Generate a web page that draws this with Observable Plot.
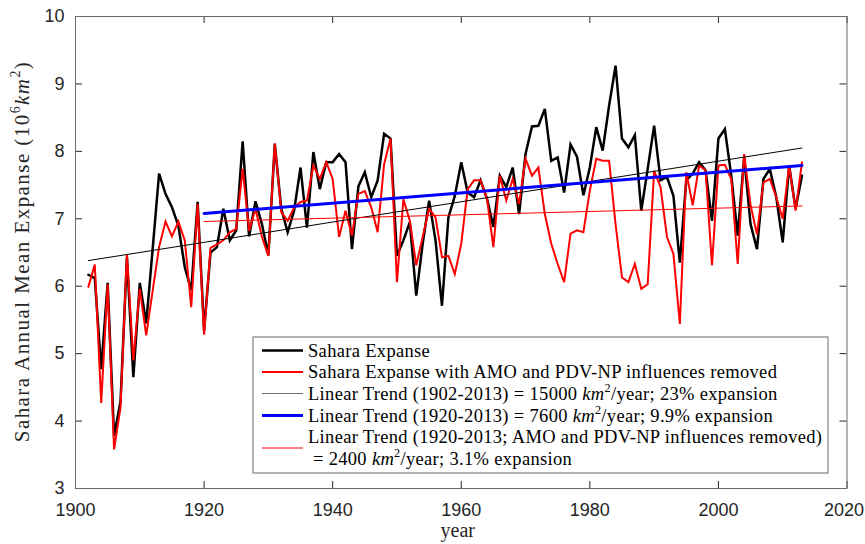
<!DOCTYPE html>
<html><head><meta charset="utf-8">
<script src="https://cdn.jsdelivr.net/npm/d3@7"></script>
<script src="https://cdn.jsdelivr.net/npm/@observablehq/plot@0.6"></script>
<style>
body{margin:0;background:#fff}
#chart{position:relative;width:865px;height:544px}
</style>
</head><body><div id="chart"></div>
<script>
// ---------- data ----------
const years = d3.range(1902, 2014);
const sahara = [
  6.17,6.12,4.77,6.05,3.78,4.29,6.43,4.65,
  6.05,5.45,6.55,7.67,7.37,7.17,6.90,6.28,5.94,7.25,
  5.34,6.50,6.58,7.15,6.68,6.83,8.15,6.74,7.26,6.92,
  6.46,8.11,7.15,6.80,7.12,7.76,6.87,7.99,7.44,7.84,
  7.84,7.96,7.84,6.55,7.48,7.69,7.32,7.57,8.26,8.19,
  6.45,6.68,6.95,5.86,6.63,7.27,6.68,5.71,7.02,7.34,
  7.84,7.39,7.32,7.57,7.30,6.88,7.64,7.47,7.76,7.07,
  7.96,8.37,8.38,8.63,7.86,7.91,7.39,8.10,7.92,7.35,
  7.76,8.36,8.01,8.68,9.27,8.19,8.06,8.24,7.12,7.74,
  8.38,7.57,7.62,7.34,6.35,7.57,7.67,7.84,7.72,6.97,
  8.19,8.33,7.64,6.75,7.91,6.92,6.55,7.59,7.74,7.32,
  6.65,7.79,7.15,7.64
];
const saharaAdjusted = [
  5.99,6.32,4.27,6.03,3.58,4.20,6.47,4.90,
  5.96,5.27,5.93,6.58,6.96,6.74,6.96,6.68,5.69,7.22,
  5.28,6.57,6.62,6.68,6.80,6.85,7.74,6.82,7.15,6.73,
  6.45,8.12,7.10,6.97,7.17,7.25,7.27,7.79,7.59,7.84,
  7.59,6.73,7.12,6.75,7.37,7.41,7.17,6.80,7.81,8.19,
  6.06,7.29,6.97,6.31,6.73,7.15,7.02,6.43,6.45,6.18,
  6.63,7.44,7.57,7.57,7.30,6.58,7.64,7.27,7.59,7.22,
  7.89,7.64,7.76,7.07,6.63,6.33,6.06,6.78,6.83,6.80,
  7.42,7.89,7.86,7.86,6.92,6.13,6.06,6.33,5.96,6.03,
  7.71,7.47,6.73,6.48,5.44,7.69,7.20,7.79,7.72,6.31,
  7.79,7.80,7.59,6.33,7.96,7.20,6.77,7.54,7.59,7.32,
  7.00,7.79,7.12,7.84
];
const trendAllYears = [1902, 2013];
const trendAllValues = [6.38, 8.05];
const trend1920Years = [1920, 2013];
const trend1920Values = [7.08, 7.79];
const trendAdjYears = [1920, 2013];
const trendAdjValues = [6.96, 7.19];
const xTicks = [1900, 1920, 1940, 1960, 1980, 2000, 2020];
const yTicks = [3, 4, 5, 6, 7, 8, 9, 10];
const xLabel = "year";
const yLabel = "Sahara Annual Mean Expanse (10^6km^2)";
const legendLabels = [
  "Sahara Expanse",
  "Sahara Expanse with AMO and PDV-NP influences removed",
  "Linear Trend (1902-2013) = 15000 km^2/year; 23% expansion",
  "Linear Trend (1920-2013) = 7600 km^2/year; 9.9% expansion",
  "Linear Trend (1920-2013; AMO and PDV-NP influences removed)\n = 2400 km^2/year; 3.1% expansion"
];

// ---------- styles ----------
const seriesStyle = [
  {stroke: "#000000", width: 2.5},
  {stroke: "#ff0000", width: 2},
  {stroke: "#000000", width: 1},
  {stroke: "#0000ff", width: 3},
  {stroke: "#ff0000", width: 1}
];
const legendSampleStroke = ["#000000", "#ff0000", "#6e6e6e", "#0000ff", "#ff0000"];
const axisColor = "#262626";
const frameColor = "#6b6b6b";

const rows = (xs, ys) => xs.map((x, i) => ({x, y: ys[i]}));
const dSahara = rows(years, sahara);
const dAdj = rows(years, saharaAdjusted);
const dTrendAll = rows(trendAllYears, trendAllValues);
const dTrend1920 = rows(trend1920Years, trend1920Values);
const dTrendAdj = rows(trendAdjYears, trendAdjValues);

const W = 865, H = 544;
const mL = 75, mR = 18.5, mT = 16, mB = 56;
const tickLen = 7;
const pxPerYear = (W - mL - mR) / 120, pxPerUnit = (H - mT - mB) / 7;

const chart = Plot.plot({
  width: W, height: H,
  marginLeft: mL, marginRight: mR, marginTop: mT, marginBottom: mB,
  style: {fontFamily: "'Liberation Sans', Arial, Helvetica, sans-serif", fontSize: "18px", color: axisColor, background: "#fff", overflow: "visible"},
  x: {domain: [1900, 2020], ticks: xTicks, tickFormat: d => String(d), tickSize: 0, tickPadding: 15, label: null},
  y: {domain: [3, 10], ticks: yTicks, tickFormat: d => String(d), tickSize: 0, tickPadding: 11, label: null},
  marks: [
    Plot.line(dSahara, {x: "x", y: "y", stroke: seriesStyle[0].stroke, strokeWidth: seriesStyle[0].width, strokeLinejoin: "miter", strokeMiterlimit: 4}),
    Plot.line(dAdj, {x: "x", y: "y", stroke: seriesStyle[1].stroke, strokeWidth: seriesStyle[1].width, strokeLinejoin: "miter", strokeMiterlimit: 4}),
    Plot.line(dTrendAll, {x: "x", y: "y", stroke: seriesStyle[2].stroke, strokeWidth: seriesStyle[2].width}),
    Plot.line(dTrend1920, {x: "x", y: "y", stroke: seriesStyle[3].stroke, strokeWidth: seriesStyle[3].width}),
    Plot.line(dTrendAdj, {x: "x", y: "y", stroke: seriesStyle[4].stroke, strokeWidth: seriesStyle[4].width}),
    // inward tick marks on all four sides (MATLAB box style)
    Plot.ruleX(xTicks, {x: d => d, y1: 3, y2: 3 + tickLen / pxPerUnit, stroke: axisColor}),
    Plot.ruleX(xTicks, {x: d => d, y1: 10, y2: 10 - tickLen / pxPerUnit, stroke: axisColor}),
    Plot.ruleY(yTicks, {y: d => d, x1: 1900, x2: 1900 + tickLen / pxPerYear, stroke: axisColor}),
    Plot.ruleY(yTicks, {y: d => d, x1: 2020, x2: 2020 - tickLen / pxPerYear, stroke: axisColor}),
    Plot.frame({stroke: frameColor, strokeWidth: 1})
  ]
});
document.getElementById("chart").appendChild(chart);

// keep the last x tick label inside the window (as in the reference)
d3.select(chart).selectAll("text").filter(function() { return this.textContent === "2020"; })
  .attr("dx", -3);

// ---------- rich text helper (italic km, superscripts) ----------
const serif = "'Liberation Serif', 'Times New Roman', serif";
function richText(sel, str, size) {
  const re = /(km)\^(\d)|\^(\d)/g;
  let last = 0, m, shifted = false;
  const add = (t, opt = {}) => {
    const ts = sel.append("tspan").text(t);
    if (opt.italic) ts.attr("font-style", "italic");
    if (opt.sup) { ts.attr("font-size", size * 0.66).attr("dy", -size * 0.32); shifted = true; }
    else if (shifted) { ts.attr("dy", size * 0.32); shifted = false; }
  };
  while ((m = re.exec(str))) {
    if (m.index > last) add(str.slice(last, m.index));
    if (m[1]) { add("km", {italic: true}); add(m[2], {sup: true}); }
    else add(m[3], {sup: true});
    last = re.lastIndex;
  }
  if (last < str.length) add(str.slice(last));
}
// widen (Times-like) text by letter-spacing to the reference's Computer Modern width
function spreadTo(textSel, target) {
  const node = textSel.node();
  const w = node.getComputedTextLength();
  const n = node.textContent.length;
  if (w < target && n > 1) textSel.attr("letter-spacing", (target - w) / (n - 1));
}

const svg = d3.select(chart);

// y label
const ys = 21;
const yl = svg.append("text")
  .attr("transform", `translate(24,${(60 + 443) / 2}) rotate(-90)`)
  .attr("text-anchor", "middle").attr("dominant-baseline", "middle")
  .attr("font-family", serif).attr("font-size", ys).attr("fill", axisColor);
richText(yl, yLabel, ys);
spreadTo(yl, 380);

// x label
svg.append("text").attr("x", mL + (W - mL - mR) / 2 - 3).attr("y", 537)
  .attr("text-anchor", "middle").attr("font-family", serif).attr("font-size", 20)
  .attr("fill", axisColor).text(xLabel);

// ---------- legend ----------
const lg = {x: 253, y: 337, w: 575, h: 136};
const leg = svg.append("g").attr("text-anchor", "start");
leg.append("rect").attr("x", lg.x).attr("y", lg.y).attr("width", lg.w).attr("height", lg.h)
  .attr("fill", "#fff").attr("stroke", frameColor).attr("stroke-width", 1);

const lfs = 18.5;
// letter-spacing derived from the reference width of the longest entry line
const probe = leg.append("text").attr("font-family", serif).attr("font-size", lfs);
richText(probe, legendLabels[4].split("\n")[0], lfs);
const pw = probe.node().getComputedTextLength();
const pn = probe.node().textContent.length;
const ls = Math.max(0, (514 - pw) / (pn - 1));
probe.remove();

const rowY = [350.5, 372, 393.5, 415.5];
const textX = 308;
legendLabels.forEach((lab, i) => {
  const lines = lab.split("\n");
  let sampleY, firstY;
  if (lines.length === 1) { firstY = rowY[i]; sampleY = rowY[i]; }
  else { firstY = 436.5; sampleY = 448; }
  leg.append("line").attr("x1", 262).attr("x2", 303).attr("y1", sampleY).attr("y2", sampleY)
    .attr("stroke", legendSampleStroke[i]).attr("stroke-width", seriesStyle[i].width);
  lines.forEach((ln, j) => {
    const t = leg.append("text").attr("x", textX).attr("y", firstY + j * 22)
      .attr("text-anchor", "start")
      .attr("dominant-baseline", "central")
      .attr("letter-spacing", ls)
      .attr("font-family", serif).attr("font-size", lfs).attr("fill", "#000");
    richText(t, ln, lfs);
  });
});
</script>
</body></html>
